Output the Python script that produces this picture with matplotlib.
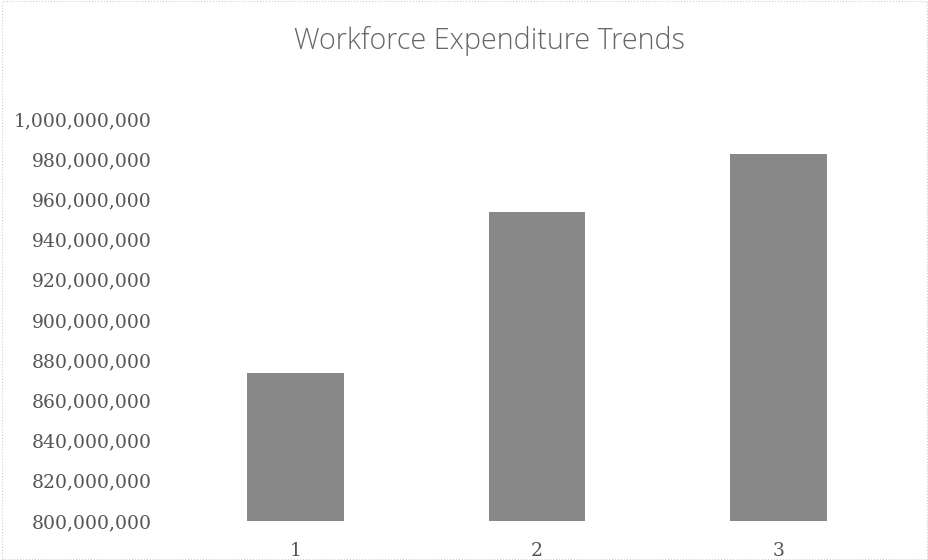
import matplotlib
matplotlib.use("Agg")
import matplotlib.pyplot as plt
from matplotlib.ticker import FuncFormatter
from matplotlib.patches import Rectangle

categories = ["1", "2", "3"]
values = [873_500_000, 953_500_000, 982_500_000]
y_ticks = [800_000_000 + 20_000_000 * i for i in range(11)]

fig = plt.figure(figsize=(9.29, 5.6), dpi=100)
ax = fig.add_axes([175/929, 1-521/560, (899-175)/929, (521-119)/560])

x = list(range(1, len(categories) + 1))
ax.bar(x, values, width=0.4, color="#888888", zorder=2)
ax.set_xlim(0.5, 3.5)
ax.set_ylim(800_000_000, 1_000_000_000)
ax.set_yticks(y_ticks)
ax.yaxis.set_major_formatter(FuncFormatter(lambda v, p: f"{int(round(v)):,}"))
ax.set_xticks(x)
ax.set_xticklabels(categories)
for s in ax.spines.values():
    s.set_visible(False)
ax.tick_params(axis="both", length=0, colors="#555555")
ax.tick_params(axis="y", pad=16.5)
ax.tick_params(axis="x", pad=15)
for lab in ax.get_yticklabels() + ax.get_xticklabels():
    lab.set_fontfamily("DejaVu Serif")
    lab.set_fontsize(13.5)
    lab.set_color("#555555")

fig.text(0.527, 1-41/560, "Workforce Expenditure Trends", ha="center", va="center",
         fontsize=20.7, fontfamily="Open Sans", fontweight="light", color="#666666")

fig.patches.append(Rectangle((0.002, 0.002), 0.996, 0.996, transform=fig.transFigure,
                             fill=False, edgecolor="#cccccc", linewidth=0.8, linestyle=":"))

fig.savefig("out.png", dpi=100)
